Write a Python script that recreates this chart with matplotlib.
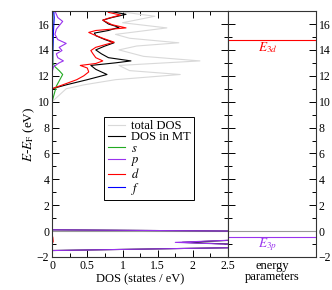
import matplotlib
matplotlib.use('Agg')
import matplotlib.pyplot as plt
from matplotlib.ticker import MultipleLocator

# ---- data (E in eV, DOS in states/eV) ----
e_total   = [-2.0, -1.5, -1.2, -0.87, -0.6, -0.05, 0.1, 10.0, 10.5, 11.0, 11.3, 11.7, 12.1, 12.4, 12.8,
             13.15, 13.5, 14.0, 14.3, 14.55, 14.9, 15.2, 15.7, 16.1, 16.6, 17.0, 17.2]
dos_total = [0.0, 0.0, 3.5, 1.85, 3.0, 4.0, 0.0, 0.0, 0.1, 0.2, 0.45, 0.9, 1.82, 1.1, 0.95,
             2.1, 1.3, 0.95, 1.2, 1.8, 1.1, 0.9, 1.63, 1.0, 1.46, 0.9, 0.8]

e_mt   = [-2.0, -1.5, -1.2, -0.87, -0.6, -0.05, 0.1, 11.0, 11.3, 11.7, 12.1, 12.3, 12.5, 12.8, 13.0, 13.15,
          13.4, 13.7, 14.0, 14.3, 14.55, 14.8, 15.1, 15.3, 15.5, 15.75, 16.0, 16.3, 16.5, 16.75, 17.0, 17.2]
dos_mt = [0.0, 0.0, 3.5, 1.85, 3.0, 4.0, 0.0, 0.0, 0.2, 0.5, 0.78, 0.7, 0.62, 0.55, 0.9, 1.12,
          0.8, 0.7, 0.62, 0.75, 0.88, 0.75, 0.62, 0.6, 0.8, 0.95, 0.8, 0.72, 0.85, 1.05, 0.8, 0.75]

e_s   = [-2.0, 10.0, 10.6, 11.2, 11.8, 12.1, 12.4, 12.7, 13.0, 17.2]
dos_s = [0.0, 0.0, 0.03, 0.06, 0.12, 0.15, 0.1, 0.04, 0.01, 0.01]

e_p   = [-2.0, -1.5, -1.2, -0.87, -0.6, -0.05, 0.1, 12.3, 12.7, 13.0, 13.15, 13.4, 13.7, 13.95, 14.2,
         14.5, 14.8, 15.2, 15.6, 16.0, 16.2, 16.5, 17.0, 17.2]
dos_p = [0.0, 0.0, 3.5, 1.75, 3.0, 4.0, 0.0, 0.0, 0.02, 0.1, 0.16, 0.08, 0.06, 0.14, 0.1,
         0.2, 0.08, 0.04, 0.06, 0.12, 0.15, 0.08, 0.04, 0.03]

e_d   = [-2.0, -1.0, -0.8, -0.5, -0.3, 11.0, 11.3, 11.7, 12.0, 12.3, 12.6, 12.8, 12.95, 13.15, 13.4, 13.7,
         13.95, 14.2, 14.6, 14.9, 15.2, 15.35, 15.5, 15.7, 15.95, 16.3, 16.45, 16.7, 16.9, 17.2]
dos_d = [0.0, 0.0, 0.015, 0.01, 0.0, 0.0, 0.15, 0.35, 0.45, 0.52, 0.5, 0.4, 0.62, 0.72, 0.62, 0.58,
         0.55, 0.62, 0.88, 0.72, 0.58, 0.52, 0.62, 1.05, 0.85, 0.72, 0.8, 0.97, 0.8, 0.75]

e_f   = [-2.0, 10.5, 12.5, 14.0, 15.5, 16.5, 17.2]
dos_f = [0.0, 0.0, 0.005, 0.01, 0.02, 0.03, 0.02]

e_3d = 14.77
e_3p = -0.49

tick_font = 'Liberation Serif'

def main():
    plt.rcParams['font.family'] = tick_font
    plt.rcParams['mathtext.fontset'] = 'stix'
    plt.rcParams['font.size'] = 8.5

    fig = plt.figure(figsize=(3.32, 2.90), dpi=100)
    ax = fig.add_axes([0.157, 0.1138, 0.530, 0.848])
    ax2 = fig.add_axes([0.687, 0.1138, 0.265, 0.848])

    plot_dos(ax)
    plot_params(ax2)

    fig.savefig('out.png', dpi=100)

##########################################################################################################

def plot_dos(ax):
    ax.axhline(0, color='#999999', lw=0.8)
    ax.plot(dos_total, e_total, c='#d9d9d9', lw=0.8, label='total DOS')
    ax.plot(dos_mt, e_mt, c='black', lw=0.8, label='DOS in MT')
    ax.plot(dos_s, e_s, c='#22aa22', lw=0.8, label=r'$s$')
    ax.plot(dos_p, e_p, c='#9933ee', lw=0.8, label=r'$p$')
    ax.plot(dos_d, e_d, c='red', lw=0.8, label=r'$d$')
    ax.plot(dos_f, e_f, c='blue', lw=0.8, label=r'$f$')

    ax.set_xlim(0, 2.5)
    ax.set_ylim(-2, 17)
    ax.xaxis.set_major_locator(MultipleLocator(0.5))
    ax.xaxis.set_minor_locator(MultipleLocator(0.25))
    ax.yaxis.set_major_locator(MultipleLocator(2))
    ax.yaxis.set_minor_locator(MultipleLocator(1))
    ax.set_xticks([0, 0.5, 1, 1.5, 2, 2.5], ['0', '0.5', '1', '1.5', '2', '2.5'])
    ax.tick_params(which='both', direction='in', top=True, right=True, labelsize=8.5, pad=2)
    ax.tick_params(which='major', length=5, width=0.7)
    ax.tick_params(which='minor', length=3, width=0.7)
    for s in ax.spines.values():
        s.set_linewidth(0.8)
        s.set_color('#333333')

    ax.set_xlabel('DOS (states / eV)', fontsize=9, labelpad=1)
    ax.set_ylabel(r'$E$-$E_\mathrm{F}$ (eV)', fontsize=9.5, labelpad=0)

    leg = ax.legend(loc='lower right', bbox_to_anchor=(0.807, 0.232), fontsize=9, frameon=True,
                    fancybox=False, edgecolor='black', framealpha=1, handlelength=1.4,
                    handletextpad=0.5, borderpad=0.25, labelspacing=-0.05, borderaxespad=0)
    leg.get_frame().set_linewidth(0.7)

##########################################################################################################

def plot_params(ax2):
    ax2.axhline(0, color='#999999', lw=0.8)
    ax2.axhline(e_3d, color='red', lw=0.8)
    ax2.axhline(e_3p, color='#9933ee', lw=0.8)
    ax2.text(0.45, e_3d - 0.6, r'$E_{3d}$', color='red', ha='center', va='center', fontsize=9.5,
             transform=ax2.get_yaxis_transform())
    ax2.text(0.45, e_3p - 0.55, r'$E_{3p}$', color='#9933ee', ha='center', va='center', fontsize=9.5,
             transform=ax2.get_yaxis_transform())

    ax2.set_xlim(0, 1)
    ax2.set_ylim(-2, 17)
    ax2.set_xticks([])
    ax2.yaxis.set_major_locator(MultipleLocator(2))
    ax2.yaxis.set_minor_locator(MultipleLocator(1))
    ax2.tick_params(axis='y', which='both', direction='in', left=True, right=True,
                    labelleft=False, labelright=True, labelsize=8.5, pad=2)
    ax2.tick_params(which='major', length=5, width=0.7)
    ax2.tick_params(which='minor', length=3, width=0.7)
    for s in ax2.spines.values():
        s.set_linewidth(0.8)
        s.set_color('#333333')
    ax2.set_xlabel('energy\nparameters', fontsize=9, labelpad=2, linespacing=0.95)

##########################################################################################################

if __name__ == '__main__':
    main()
